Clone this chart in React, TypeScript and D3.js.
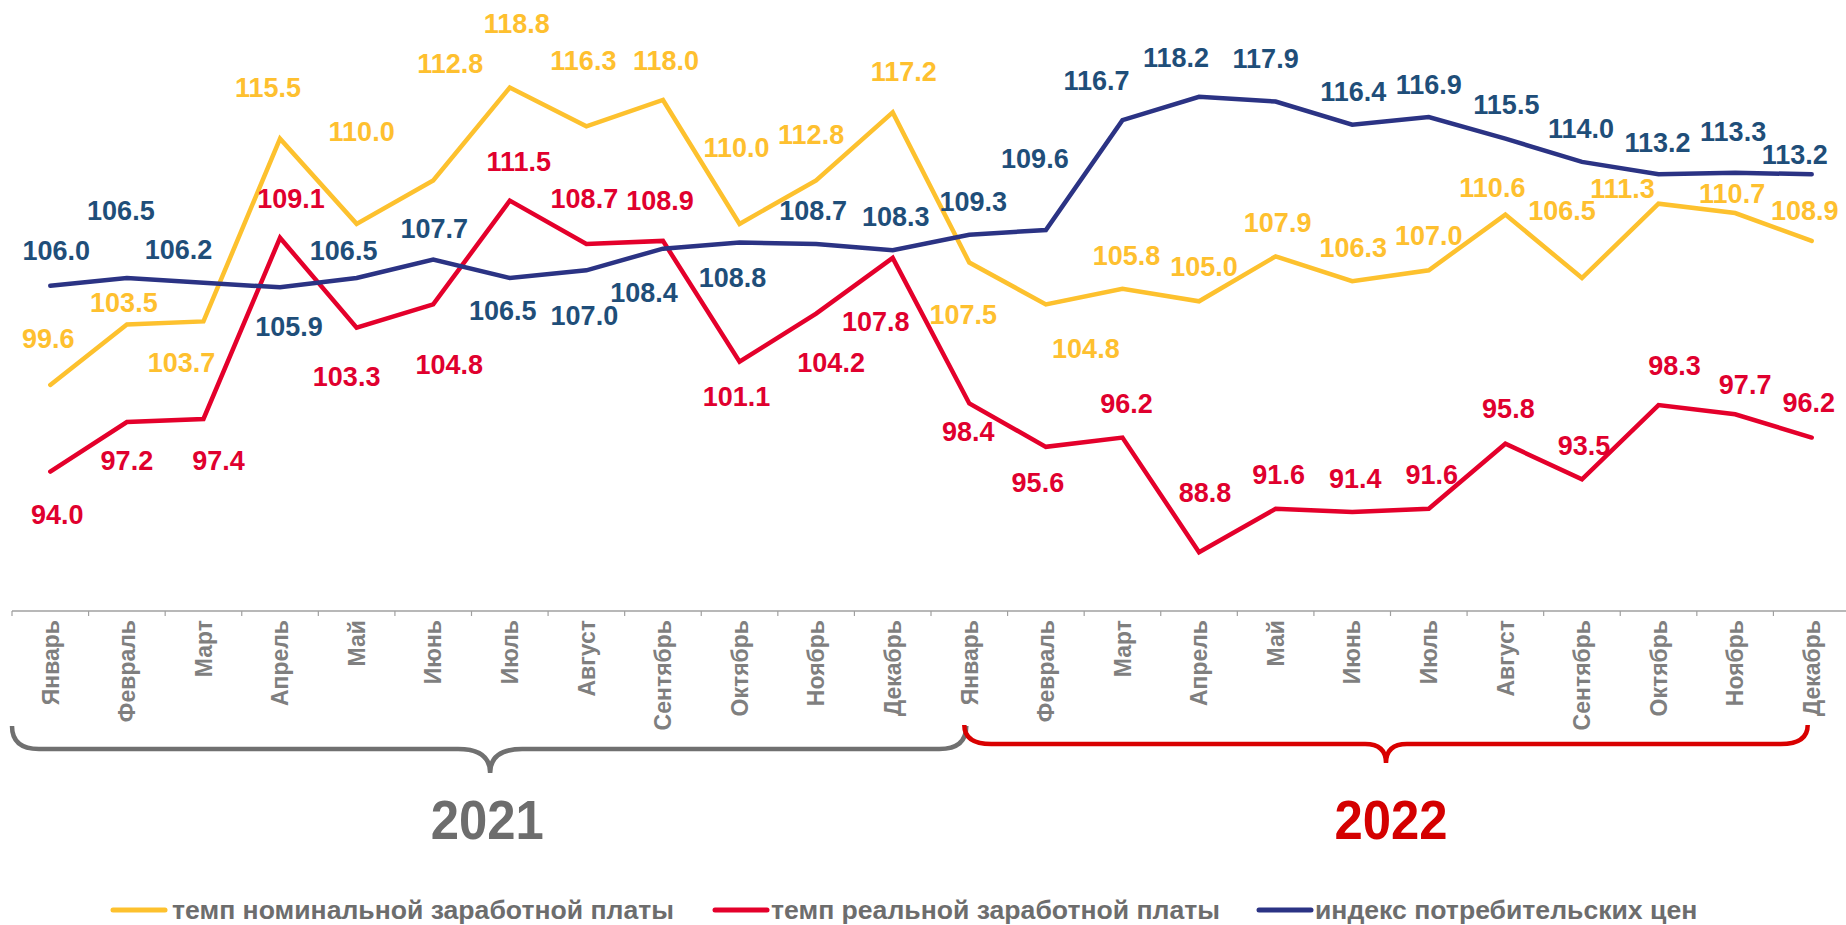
import * as d3 from 'd3';

const months = [
  'Январь', 'Февраль', 'Март', 'Апрель', 'Май', 'Июнь',
  'Июль', 'Август', 'Сентябрь', 'Октябрь', 'Ноябрь', 'Декабрь',
];
const years = ['2021', '2022'];
const categories = years.flatMap(y => months.map(m => `${m} ${y}`));

const nominal = [
  99.6, 103.5, 103.7, 115.5, 110.0, 112.8, 118.8, 116.3, 118.0, 110.0, 112.8, 117.2,
  107.5, 104.8, 105.8, 105.0, 107.9, 106.3, 107.0, 110.6, 106.5, 111.3, 110.7, 108.9,
];
const real = [
  94.0, 97.2, 97.4, 109.1, 103.3, 104.8, 111.5, 108.7, 108.9, 101.1, 104.2, 107.8,
  98.4, 95.6, 96.2, 88.8, 91.6, 91.4, 91.6, 95.8, 93.5, 98.3, 97.7, 96.2,
];
const cpi = [
  106.0, 106.5, 106.2, 105.9, 106.5, 107.7, 106.5, 107.0, 108.4, 108.8, 108.7, 108.3,
  109.3, 109.6, 116.7, 118.2, 117.9, 116.4, 116.9, 115.5, 114.0, 113.2, 113.3, 113.2,
];

// manual label nudges (dx, dy from the point), like the hand-placed Excel labels
const nominalShift = [
  [-2, -47], [-3, -22], [-22, 41], [-12, -51], [5, -93], [17, -117], [7, -64], [-3, -66],
  [3, -40], [-3, -77], [-5, -46], [11, -41], [-6, 52], [40, 44], [4, -34], [5, -35],
  [2, -34], [1, -34], [0, -35], [-13, -27], [-20, -68], [-36, -15], [-3, -20], [-7, -31],
];
const realShift = [
  [7, 43], [0, 38], [15, 41], [11, -40], [-10, 49], [16, 60], [9, -39], [-2, -46],
  [-3, -41], [-3, 35], [15, 49], [-17, 63], [-1, 28], [-8, 35], [4, -34], [6, -60],
  [3, -35], [3, -34], [3, -35], [3, -35], [2, -34], [16, -40], [10, -30], [-3, -35],
];
const cpiShift = [
  [6, -36], [-6, -68], [-25, -33], [9, 39], [-13, -28], [1, -31], [-7, 32], [-2, 45],
  [-19, 44], [-7, 35], [-3, -34], [3, -34], [4, -33], [-11, -72], [-26, -40], [-23, -40],
  [-10, -43], [1, -33], [0, -33], [1, -34], [-1, -34], [-1, -32], [-2, -41], [-17, -20],
];

const series = [
  { name: 'темп номинальной заработной платы', values: nominal, shift: nominalShift, line: '#fdc12e', label: '#fec02f' },
  { name: 'темп реальной заработной платы', values: real, shift: realShift, line: '#e4002b', label: '#e0002e' },
  { name: 'индекс потребительских цен', values: cpi, shift: cpiShift, line: '#2b3384', label: '#1f4e79' },
];

const W = 1846;
const H = 925;
const font = 'Arial, "Liberation Sans", sans-serif';

export default function App() {
  const x = d3.scaleBand<string>().domain(categories).range([12, 1850]).padding(0);
  const y = d3.scaleLinear().domain([85, 120]).range([611, 69]);
  const cx = (i: number) => (x(categories[i]) || 0) + x.bandwidth() / 2;

  const line = d3.line<number>()
    .x((_, i) => cx(i))
    .y(d => y(d));

  const axisY = y(85);
  const bw = x.bandwidth();

  // braces under each year
  const gStart = x.range()[0];
  const gEnd = cx(12) - 3;
  const rStart = cx(12) - 5;
  const rEnd = cx(23) - 4;
  const gMid = (gStart + gEnd) / 2 + 1;
  const rMid = (rStart + rEnd) / 2;
  const brace = (a: number, b: number, mid: number, top: number, hy: number, tip: number, r: number, hw: number) =>
    `M${a},${top} Q${a},${hy} ${a + r},${hy} L${mid - hw},${hy} Q${mid},${hy} ${mid},${tip} ` +
    `Q${mid},${hy} ${mid + hw},${hy} L${b - r},${hy} Q${b},${hy} ${b},${top}`;

  const legend = [
    { x0: 113, tx: 172 },
    { x0: 715, tx: 771 },
    { x0: 1259, tx: 1315 },
  ];

  return (
    <svg width={W} height={H} style={{ position: 'absolute', left: 0, top: 0, background: '#fff' }} fontFamily={font}>
      {/* axis */}
      <line x1={12} x2={W} y1={axisY} y2={axisY} stroke="#a0a0a0" strokeWidth={1.5} />
      {d3.range(categories.length + 1).map(i => (
        <line key={i} x1={12 + i * bw} x2={12 + i * bw} y1={axisY} y2={axisY + 5} stroke="#a0a0a0" strokeWidth={1.2} />
      ))}
      {categories.map((c, i) => (
        <text
          key={c}
          transform={`translate(${cx(i)},${axisY + 9}) rotate(-90)`}
          textAnchor="end"
          dy="0.36em"
          fontSize={23}
          fontWeight="bold"
          fill="#7f7f7f"
        >
          {months[i % 12]}
        </text>
      ))}

      {/* lines */}
      {series.map(s => (
        <path key={s.name} d={line(s.values) || ''} fill="none" stroke={s.line} strokeWidth={4.5}
          strokeLinejoin="miter" strokeLinecap="round" />
      ))}

      {/* data labels */}
      {series.map(s => (
        <g key={s.name + 'l'}>
          {s.values.map((v, i) => (
            <text
              key={i}
              x={cx(i) + s.shift[i][0]}
              y={y(v) + s.shift[i][1]}
              dy="0.36em"
              textAnchor="middle"
              fontSize={27}
              fontWeight="bold"
              fill={s.label}
            >
              {v.toFixed(1)}
            </text>
          ))}
        </g>
      ))}

      {/* year braces */}
      <path d={brace(gStart, gEnd, gMid, 726, 749, 773, 27, 32)} fill="none" stroke="#707070" strokeWidth={4.5} />
      <path d={brace(rStart, rEnd, rMid, 725, 744, 763, 27, 21)} fill="none" stroke="#d90000" strokeWidth={4.5} />
      <text x={gMid - 3} y={839} textAnchor="middle" fontSize={55} fontWeight="bold" fill="#6d6d6d"
        textLength={113} lengthAdjust="spacingAndGlyphs">{years[0]}</text>
      <text x={rMid + 5} y={839} textAnchor="middle" fontSize={55} fontWeight="bold" fill="#d40000"
        textLength={113} lengthAdjust="spacingAndGlyphs">{years[1]}</text>

      {/* legend */}
      {series.map((s, i) => (
        <g key={s.name + 'lg'}>
          <line x1={legend[i].x0} x2={legend[i].x0 + 52} y1={910} y2={910} stroke={s.line} strokeWidth={5} strokeLinecap="round" />
          <text x={legend[i].tx} y={919} fontSize={26.6} fontWeight="bold" fill="#6d6d6d">{s.name}</text>
        </g>
      ))}
    </svg>
  );
}
